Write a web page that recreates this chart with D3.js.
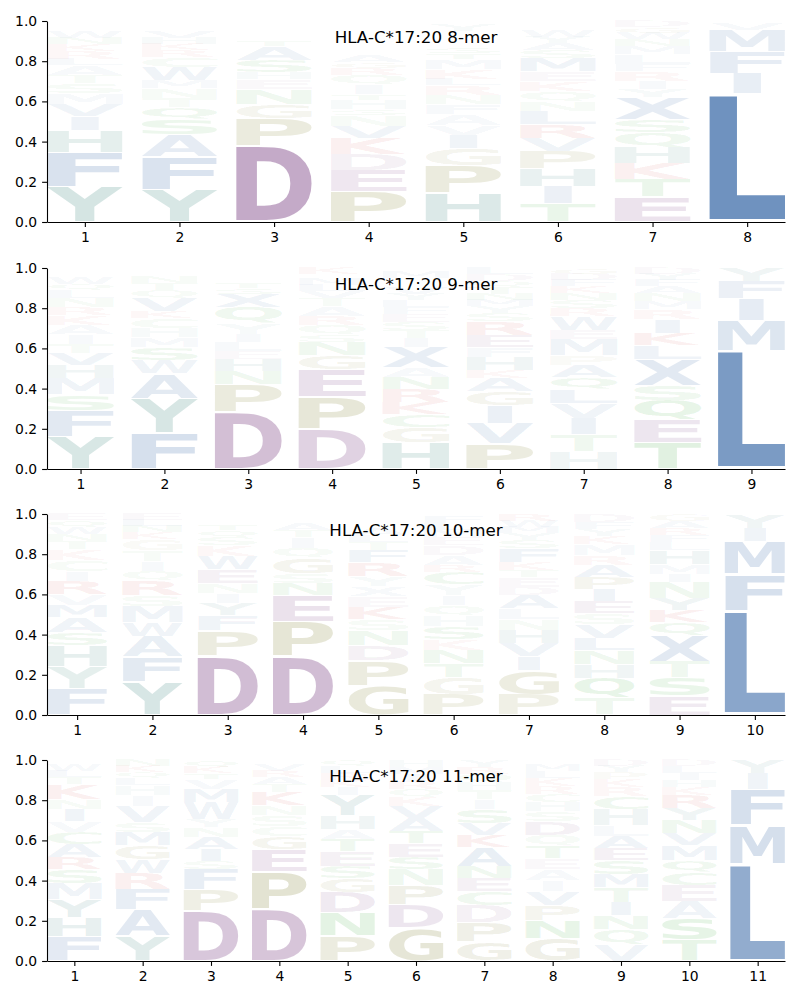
<!DOCTYPE html>
<html><head><meta charset="utf-8">
<script src="https://cdn.jsdelivr.net/npm/d3@7"></script>
<style>body{margin:0;background:#fff}svg{display:block}</style>
</head><body>
<svg id="chart" width="800" height="1000"></svg>
<script>
// ---- data: letters (bottom -> top) and heights per position ----
const titles = ["HLA-C*17:20 8-mer","HLA-C*17:20 9-mer","HLA-C*17:20 10-mer","HLA-C*17:20 11-mer"];
const yTicks = [0,0.2,0.4,0.6,0.8,1.0];

const letters8 = [
 "YFHIVMSTALRKNWQECG","YFASQTNMWCRKHVLEG","DPGNEHSATYKVLM","PEDKVNSHTIQRGAMWFYC",
 "HPGIVAFNRLKMTSEQDWYC","TIHPVRLNQKEMSAYWFG","ETKHQSXYIRFLMNWGD","LIFMVY"];
const heights8 = [
 [.175,.17,.11,.07,.06,.055,.05,.04,.05,.03,.04,.035,.03,.03,.02,.015,.01,.01],
 [.16,.165,.11,.075,.06,.045,.05,.04,.065,.05,.035,.03,.03,.03,.025,.015,.015],
 [.38,.135,.07,.075,.05,.035,.06,.07,.03,.025,.02,.02,.015,.015],
 [.15,.105,.08,.08,.06,.055,.03,.045,.03,.045,.05,.035,.03,.03,.025,.02,.02,.02,.01],
 [.145,.135,.085,.065,.05,.055,.05,.045,.05,.03,.05,.05,.03,.03,.025,.02,.02,.015,.03,.02],
 [.09,.085,.09,.085,.065,.07,.065,.05,.05,.05,.05,.065,.04,.035,.03,.03,.025,.025],
 [.125,.085,.08,.08,.075,.065,.11,.04,.04,.05,.035,.05,.04,.035,.03,.03,.03],
 [.64,.10,.11,.105,.035,.01]];

const letters9 = [
 "YFSMHVTIAKRNLQWEG","FYAWSMHCKVQTNLE","DPNHELIYQXSTKAW","DPEGNSQRATVLMHK",
 "HGCKRNAXITSEFLYVWDMQ","PVIGAKHFERSYMNTQDL","HTIVLQAPMEWRSNKFDG","TEQSXLKIRMNAFYD","LMIFY"];
const heights9 = [
 [.16,.13,.08,.08,.065,.06,.045,.05,.045,.05,.04,.045,.04,.03,.03,.025,.025],
 [.18,.17,.125,.065,.065,.05,.045,.05,.035,.065,.04,.035,.03,.025,.02],
 [.285,.135,.065,.06,.04,.045,.04,.055,.08,.065,.03,.03,.025,.025,.02],
 [.2,.16,.135,.07,.065,.035,.05,.045,.05,.04,.035,.03,.03,.025,.03],
 [.13,.075,.065,.06,.065,.06,.05,.1,.045,.04,.04,.04,.035,.035,.03,.03,.025,.025,.03,.02],
 [.125,.1,.09,.07,.065,.04,.065,.05,.06,.07,.04,.035,.03,.03,.035,.03,.035,.03],
 [.085,.085,.08,.075,.07,.06,.06,.05,.08,.045,.07,.04,.04,.035,.035,.03,.03,.03],
 [.13,.115,.095,.075,.13,.07,.06,.07,.05,.04,.04,.035,.03,.03,.03],
 [.59,.15,.11,.085,.065]];

const letters10 = [
 "FYHSAMVRICKTNWQE","YFAWMSRQITGKNLE","DPFYINEWKSQTML","DPENSGQITAKV",
 "GPDNSKEXYRFTLAMQV","PGTNKSHQIYCRADEMLFW","PGIVHNLADETKFSYMWR","TQHNLVSEIPARMKYFD",
 "ESTXQKYNIMHLFRAG","LFMIY"];
const heights10 = [
 [.13,.11,.105,.065,.075,.06,.055,.065,.05,.055,.055,.04,.035,.035,.035,.03],
 [.165,.125,.1,.07,.08,.055,.075,.045,.05,.055,.055,.035,.03,.03,.03],
 [.295,.125,.075,.06,.05,.05,.07,.065,.055,.04,.035,.03,.025,.025],
 [.295,.17,.13,.06,.05,.075,.05,.055,.035,.03,.025,.025],
 [.145,.125,.075,.075,.055,.06,.055,.05,.05,.07,.06,.04,.035,.035,.025,.02,.025],
 [.1,.085,.07,.065,.055,.065,.055,.05,.05,.055,.06,.035,.05,.05,.04,.035,.035,.03,.015],
 [.1,.12,.07,.065,.065,.055,.055,.065,.04,.05,.035,.04,.07,.04,.035,.03,.03,.035],
 [.085,.095,.07,.07,.06,.07,.055,.06,.06,.06,.06,.05,.055,.04,.035,.035,.04],
 [.095,.09,.08,.13,.065,.06,.06,.08,.04,.05,.07,.04,.035,.035,.035,.035],
 [.52,.18,.165,.065,.07]];

const letters11 = [
 "FHYMSRACVINKTLWQ","YAFRWGMSVIHLQKN","DPFSIANYWMVTKQ","DPEGCSNKTARVH",
 "PNDGSETAHYIKRLQ","GDPNSETAVKQRIMH","GPDCENAKVSITHQRY","GNPVIAETQDSHCRKLMY",
 "VQNITMSEALHCRKPYD","TSAECQMVNYRKHILD","LMFIY"];
const heights11 = [
 [.12,.095,.09,.08,.07,.06,.065,.06,.055,.06,.05,.075,.035,.03,.03,.025],
 [.125,.13,.1,.08,.07,.07,.065,.05,.08,.055,.05,.035,.03,.03,.03],
 [.25,.105,.1,.04,.06,.06,.05,.04,.085,.065,.05,.03,.03,.035],
 [.26,.185,.11,.065,.05,.055,.05,.065,.04,.035,.03,.03,.025],
 [.125,.115,.1,.07,.06,.075,.06,.05,.07,.1,.04,.035,.035,.035,.03],
 [.165,.115,.095,.08,.06,.07,.06,.065,.06,.045,.04,.04,.035,.035,.035],
 [.095,.095,.085,.07,.065,.06,.095,.06,.06,.07,.05,.045,.04,.04,.035,.035],
 [.11,.09,.075,.07,.055,.055,.055,.06,.055,.07,.05,.045,.04,.04,.04,.035,.03,.025],
 [.08,.075,.07,.065,.075,.065,.07,.06,.06,.055,.08,.065,.045,.04,.035,.03,.03],
 [.105,.105,.085,.08,.065,.06,.075,.06,.065,.06,.065,.04,.035,.035,.035,.03],
 [.485,.19,.18,.08,.065]];

const panelLetters = [letters8, letters9, letters10, letters11];
const panelHeights = [heights8, heights9, heights10, heights11];

// ---- styling ----
const groupColors = {
  blue:   [30,85,155],
  purple: [100,31,110],
  teal:   [15,105,95],
  olive:  [105,105,10],
  red:    [200,20,20],
  green:  [20,150,20]
};
const letterGroup = {A:"blue",V:"blue",L:"blue",I:"blue",M:"blue",F:"blue",W:"blue",X:"blue",
  D:"purple",E:"purple", Y:"teal",H:"teal", P:"olive",G:"olive", K:"red",R:"red",
  S:"green",T:"green",N:"green",Q:"green",C:"green"};

const svg = d3.select("#chart");
const axLeft = 47, axRight = 785;
const panelTops = [21, 268, 514, 760];
const axH = 201;
const vpad = 0.05;
const fontFamily = "'DejaVu Sans', sans-serif";

// ink-box measurement of glyphs
const ctx = document.createElement("canvas").getContext("2d");
const FS = 200;
ctx.font = `bold ${FS}px 'DejaVu Sans'`;
const inkCache = {};
function ink(ch){
  if(!inkCache[ch]){
    const m = ctx.measureText(ch);
    inkCache[ch] = {l:-m.actualBoundingBoxLeft, r:m.actualBoundingBoxRight,
                    t:-m.actualBoundingBoxAscent, b:m.actualBoundingBoxDescent};
  }
  return inkCache[ch];
}
const inkE = ink("E");
const eWidth = inkE.r - inkE.l;

panelLetters.forEach((cols, pi) => {
  const heights = panelHeights[pi];
  const n = cols.length;
  const top = panelTops[pi];
  const positions = d3.range(1, n+1);
  const x = d3.scaleLinear().domain([0.6, n+0.4]).range([axLeft, axRight]);
  const y = d3.scaleLinear().domain([0,1]).range([top+axH, top]);
  const g = svg.append("g");

  // glyphs
  const glyphs = [];
  cols.forEach((str, ci) => {
    let base = 0;
    str.split("").forEach((ch, k) => {
      const h = heights[ci][k];
      glyphs.push({ch, pos: positions[ci], base, h});
      base += h;
    });
  });
  g.selectAll("text.glyph").data(glyphs).enter().append("text")
    .attr("class","glyph")
    .attr("font-family", fontFamily)
    .attr("font-weight","bold")
    .attr("font-size", FS)
    .attr("x",0).attr("y",0)
    .text(d => d.ch)
    .attr("fill", d => { const c = groupColors[letterGroup[d.ch]]; return `rgb(${c[0]},${c[1]},${c[2]})`; })
    .attr("fill-opacity", d => Math.min(1, d.h))
    .attr("transform", d => {
      const b = ink(d.ch);
      const iw = b.r - b.l, ih = b.b - b.t;
      const x0 = x(d.pos - 0.4), x1 = x(d.pos + 0.4);
      const w = x1 - x0;
      const yb = y(d.base + d.h*vpad/2), yt = y(d.base + d.h*(1 - vpad/2));
      const gh = yb - yt;
      const sx = Math.min(w/iw, w/eWidth);
      const shift = (w - sx*iw)/2;
      const sy = gh/ih;
      return `translate(${x0+shift},${yt}) scale(${sx},${sy}) translate(${-b.l},${-b.t})`;
    });

  // axes
  const yAxis = d3.axisLeft(y).tickValues(yTicks).tickFormat(d3.format(".1f"))
    .tickSize(4.9).tickPadding(4.9).tickSizeOuter(0);
  const xAxis = d3.axisBottom(x).tickValues(positions).tickFormat(d3.format("d"))
    .tickSize(4.9).tickPadding(4.9).tickSizeOuter(0);
  const ya = g.append("g").attr("transform",`translate(${axLeft},0)`).call(yAxis);
  const xa = g.append("g").attr("transform",`translate(0,${top+axH})`).call(xAxis);
  [ya, xa].forEach(a => {
    a.selectAll("text").attr("font-family", fontFamily).attr("font-size", 13.9).attr("fill","#000");
    a.selectAll("line").attr("stroke","#000").attr("stroke-width",1.1);
    a.select(".domain").attr("stroke","#000").attr("stroke-width",1.1);
  });

  // title
  g.append("text")
    .attr("x", (axLeft+axRight)/2).attr("y", top + 21.5)
    .attr("text-anchor","middle")
    .attr("font-family", fontFamily).attr("font-size", 16.7).attr("fill","#000")
    .text(titles[pi]);
});
</script>
</body></html>
